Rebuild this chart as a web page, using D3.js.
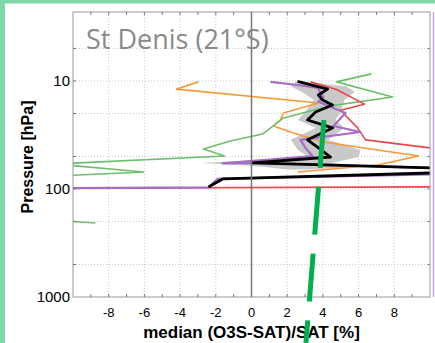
<!DOCTYPE html>
<html>
<head>
<meta charset="utf-8">
<script src="https://cdn.jsdelivr.net/npm/d3@7"></script>
<style>
  html, body { margin: 0; padding: 0; background: #fff; }
  svg { display: block; }
</style>
</head>
<body>
<div id="chart"></div>
<script>
// Werte: [x in %, Druck in hPa]
const orangeLine = [[-2.97, 10.2], [-4.2, 11.9], [3.75, 16.0], [1.79, 19.8], [1.62, 23.0], [1.23, 26.1],
  [2.35, 30.3], [4.03, 36.7], [9.36, 49.5], [7.06, 60.0], [2.58, 69.6]];
const greenLine = [[6.72, 8.6], [4.76, 10.2], [7.9, 14.1], [4.43, 17.0], [1.79, 22.0], [0.62, 31.0],
  [-1.18, 35.9], [-2.69, 42.6], [-1.51, 49.5], [-11, 58.7], [-6.05, 69.6], [-11, 75.9],
  [-12, 189.7], [-8.74, 206.7]];
const redLine = [[3.31, 10.2], [4.76, 12.0], [6.33, 16.4], [4.99, 18.7], [5.94, 27.2], [6.39, 35.1],
  [10.03, 41.7], [12, 60.0], [10.03, 95.7], [-7.06, 97.9]];
const purpleLine = [[1.06, 10.2], [2.58, 10.9], [3.70, 11.6], [4.03, 14.1], [3.75, 15.6], [5.27, 19.8],
  [4.59, 26.1], [6.11, 29.7], [2.74, 35.1], [3.03, 41.7], [3.42, 49.5], [-1.62, 58.0], [0.3, 57.4],
  [12, 65.3], [12, 72.0], [-1.9, 80.7], [-2.41, 96.8], [-11, 98.5]];
const blackLine = [[2.58, 10.1], [4.26, 11.9], [3.75, 13.5], [3.98, 15.0], [4.54, 16.7], [3.59, 19.4],
  [3.14, 23.0], [4.54, 27.2], [3.14, 35.1], [3.75, 41.7], [4.43, 50.6], [0.06, 57.4],
  [12, 65.3], [12, 69.6], [-1.62, 80.7], [-2.41, 95.7]];
// graues Band um die schwarze Linie: [Druck, unten, oben]
const bandLevels = [10.1, 11.2, 12.6, 15.0, 19.4, 23.0, 27.2, 35.1, 43.6, 50.6, 57.4, 62.0, 66.0];
const bandLow = [2.5, 2.2, 2.8, 3.5, 3.0, 2.6, 3.6, 2.2, 2.6, 3.2, -2.8, 0.5, 2.0];
const bandHigh = [2.8, 5.3, 5.8, 5.2, 5.0, 4.7, 5.2, 4.3, 6.1, 6.0, 4.5, 6.5, 3.0];
// gestrichelte Trendlinie (Annotation)
const trendLine = [[4.06, 23.0], [3.05, 2667]];

const xTicks = [-8, -6, -4, -2, 0, 2, 4, 6, 8];
const xMinorTicks = d3.range(-9, 10, 1);
const yTicks = [10, 100, 1000];
const yGrid = [5, 10, 20, 50, 100, 200, 500];

const W = 435, H = 343;
const pLeft = 73, pRight = 430, pTop = 12, pBottom = 297;

const svg = d3.select("#chart").append("svg")
  .attr("width", W).attr("height", H);

// grüner Rahmen
svg.append("rect").attr("x", 0).attr("y", 0).attr("width", W).attr("height", 3.5).attr("fill", "#80d8a8");
svg.append("rect").attr("x", 0).attr("y", 0).attr("width", 5).attr("height", H).attr("fill", "#80d8a8");

const x = d3.scaleLinear().domain([-10, 10]).range([pLeft, pRight]);
const y = d3.scaleLog().domain([2.3, 1000]).range([pTop, pBottom]);

// Gitter
svg.append("g").selectAll("line").data(xTicks).join("line")
  .attr("x1", d => x(d)).attr("x2", d => x(d)).attr("y1", pTop).attr("y2", pBottom)
  .attr("stroke", "#c8c8c8").attr("stroke-dasharray", "1,2");
svg.append("g").selectAll("line").data(yGrid).join("line")
  .attr("x1", pLeft).attr("x2", pRight).attr("y1", d => y(d)).attr("y2", d => y(d))
  .attr("stroke", "#c8c8c8").attr("stroke-dasharray", "1,2");

// Clip fuer die Daten
svg.append("clipPath").attr("id", "plotClip").append("rect")
  .attr("x", pLeft).attr("y", pTop).attr("width", pRight - pLeft).attr("height", pBottom - pTop);
const plot = svg.append("g").attr("clip-path", "url(#plotClip)");

const band = d3.area()
  .y(i => y(bandLevels[i]))
  .x0(i => x(bandLow[i]))
  .x1(i => x(bandHigh[i]));
plot.append("path").datum(d3.range(bandLevels.length))
  .attr("d", band).attr("fill", "#c9c9c9");

// Nulllinie
svg.append("line").attr("x1", x(0)).attr("x2", x(0)).attr("y1", pTop).attr("y2", pBottom)
  .attr("stroke", "#777").attr("stroke-width", 1.5);

const line = d3.line().x(d => x(d[0])).y(d => y(d[1]));
const series = [
  { data: orangeLine, color: "#f7993a", w: 1.6 },
  { data: greenLine, color: "#6cc06c", w: 1.6 },
  { data: redLine, color: "#e8474a", w: 1.6 },
  { data: purpleLine, color: "#a56dc6", w: 2.2 },
  { data: blackLine, color: "#000", w: 2.8 }
];
series.forEach(s => {
  plot.append("path").datum(s.data).attr("d", line)
    .attr("fill", "none").attr("stroke", s.color).attr("stroke-width", s.w)
    .attr("stroke-linejoin", "round");
});

// Rahmen
svg.append("rect").attr("x", pLeft).attr("y", pTop).attr("width", pRight - pLeft).attr("height", pBottom - pTop)
  .attr("fill", "none").attr("stroke", "#9a9a9a").attr("stroke-width", 1);
svg.append("line").attr("x1", 433.5).attr("x2", 433.5).attr("y1", pTop).attr("y2", pBottom)
  .attr("stroke", "#c9a6dc").attr("stroke-width", 1.5);

// kleine Ticks
svg.append("g").selectAll("line").data(xMinorTicks).join("line")
  .attr("x1", d => x(d)).attr("x2", d => x(d)).attr("y1", pBottom).attr("y2", pBottom - 3)
  .attr("stroke", "#777");
svg.append("g").selectAll("line").data(xMinorTicks).join("line")
  .attr("x1", d => x(d)).attr("x2", d => x(d)).attr("y1", pTop).attr("y2", pTop + 3)
  .attr("stroke", "#777");
svg.append("g").selectAll("line").data(yGrid).join("line")
  .attr("x1", pLeft).attr("x2", pLeft + 3).attr("y1", d => y(d)).attr("y2", d => y(d))
  .attr("stroke", "#777");
svg.append("g").selectAll("line").data(yGrid).join("line")
  .attr("x1", pRight).attr("x2", pRight - 3).attr("y1", d => y(d)).attr("y2", d => y(d))
  .attr("stroke", "#a07cc0");

// Achsenbeschriftung
svg.append("g").selectAll("text").data(xTicks).join("text")
  .attr("x", d => x(d)).attr("y", 317)
  .attr("text-anchor", "middle")
  .attr("font-family", "Liberation Sans, Arial, sans-serif").attr("font-size", 13)
  .text(d => d);
svg.append("g").selectAll("text").data(yTicks).join("text")
  .attr("x", 70).attr("y", d => y(d)).attr("dy", "0.36em")
  .attr("text-anchor", "end")
  .attr("font-family", "Liberation Sans, Arial, sans-serif").attr("font-size", 15)
  .text(d => d);

svg.append("text")
  .attr("x", x(0)).attr("y", 338)
  .attr("text-anchor", "middle")
  .attr("font-family", "Liberation Sans, Arial, sans-serif").attr("font-size", 17).attr("font-weight", "bold")
  .text("median (O3S-SAT)/SAT [%]");
svg.append("text")
  .attr("transform", "translate(33,157) rotate(-90)")
  .attr("text-anchor", "middle")
  .attr("font-family", "Liberation Sans, Arial, sans-serif").attr("font-size", 16).attr("font-weight", "bold")
  .text("Pressure [hPa]");

// Titel
svg.append("text")
  .attr("x", 86).attr("y", 49)
  .attr("font-family", "Open Sans, sans-serif").attr("font-size", 27)
  .attr("fill", "#8a8a8a")
  .text("St Denis (21°S)");

// gruene gestrichelte Linie ueber allem
svg.append("path").datum(trendLine).attr("d", line)
  .attr("fill", "none").attr("stroke", "#00b050").attr("stroke-width", 5)
  .attr("stroke-dasharray", "48,19");
</script>
</body>
</html>
